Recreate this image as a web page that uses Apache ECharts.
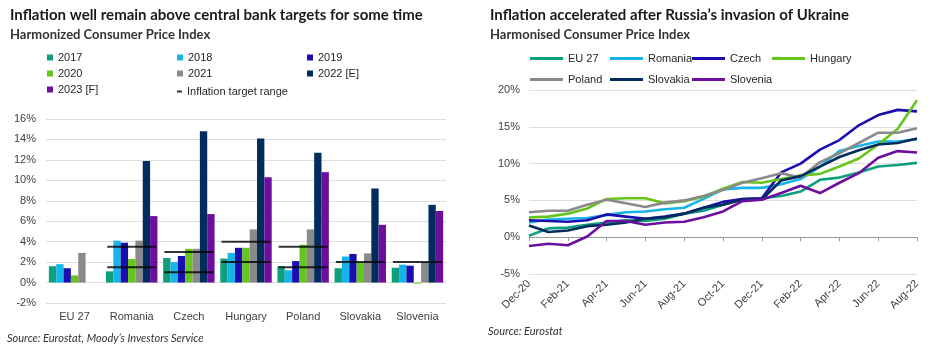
<!DOCTYPE html>
<html>
<head>
<meta charset="utf-8">
<script src="https://cdn.jsdelivr.net/npm/echarts@6/dist/echarts.min.js"></script>
<style>html,body{margin:0;padding:0;background:#fff}#c{width:934px;height:359px}</style>
</head>
<body>
<div id="c"></div>
<script>
// ---------- Left chart data ----------
const countries = ['EU 27', 'Romania', 'Czech', 'Hungary', 'Poland', 'Slovakia', 'Slovenia'];
const years = ['2017', '2018', '2019', '2020', '2021', '2022 [E]', '2023 [F]'];
const v2017 = [1.6, 1.1, 2.4, 2.35, 1.6, 1.4, 1.45];
const v2018 = [1.8, 4.1, 2.0, 2.9, 1.2, 2.55, 1.75];
const v2019 = [1.4, 3.9, 2.6, 3.4, 2.1, 2.8, 1.65];
const v2020 = [0.7, 2.3, 3.3, 3.4, 3.7, 2.0, -0.1];
const v2021 = [2.9, 4.1, 3.3, 5.2, 5.2, 2.85, 2.0];
const v2022 = [null, 11.9, 14.8, 14.1, 12.7, 9.2, 7.6];
const v2023 = [null, 6.5, 6.7, 10.3, 10.8, 5.65, 7.0];
const targetLow  = [null, 1.5, 1.0, 2.0, 1.5, 2.0, 2.0];
const targetHigh = [null, 3.5, 3.0, 4.0, 3.5, null, null];
const leftTicks = [-2, 0, 2, 4, 6, 8, 10, 12, 14, 16];

// ---------- Right chart data ----------
const months = ['Dec-20','Jan-21','Feb-21','Mar-21','Apr-21','May-21','Jun-21','Jul-21','Aug-21','Sep-21','Oct-21',
  'Nov-21','Dec-21','Jan-22','Feb-22','Mar-22','Apr-22','May-22','Jun-22','Jul-22','Aug-22'];
const eu27     = [0.2, 1.2, 1.3, 1.7, 2.0, 2.3, 2.2, 2.5, 3.2, 3.6, 4.4, 5.2, 5.3, 5.6, 6.2, 7.8, 8.1, 8.8, 9.6, 9.8, 10.1];
const romania  = [2.0, 2.4, 2.5, 2.6, 3.0, 3.4, 3.5, 3.8, 4.0, 5.2, 6.5, 6.7, 6.7, 7.2, 7.9, 9.6, 11.7, 12.4, 13.0, 13.0, 13.3];
const czech    = [2.3, 2.2, 2.1, 2.3, 3.1, 2.8, 2.5, 2.8, 3.2, 4.0, 4.8, 5.2, 5.3, 8.8, 10.0, 11.9, 13.2, 15.2, 16.6, 17.3, 17.1];
const hungary  = [2.7, 2.8, 3.2, 3.9, 5.2, 5.3, 5.3, 4.6, 4.9, 5.5, 6.6, 7.5, 7.4, 7.9, 8.4, 8.6, 9.6, 10.7, 12.6, 14.7, 18.6];
const poland   = [3.4, 3.6, 3.6, 4.4, 5.1, 4.6, 4.1, 4.7, 5.0, 5.6, 6.4, 7.4, 8.0, 8.7, 8.1, 10.2, 11.4, 12.8, 14.2, 14.2, 14.8];
const slovakia = [1.6, 0.7, 0.9, 1.5, 1.7, 2.0, 2.5, 2.7, 3.2, 4.0, 4.4, 5.1, 5.1, 7.7, 8.3, 9.6, 10.9, 11.8, 12.6, 12.8, 13.4];
const slovenia = [-1.2, -0.9, -1.1, 0.1, 2.2, 2.2, 1.7, 2.0, 2.1, 2.7, 3.5, 4.9, 5.1, 6.0, 7.0, 6.0, 7.4, 8.7, 10.8, 11.7, 11.5];
const rightTicks = [-5, 0, 5, 10, 15, 20];

const colors = ['#0e9f7e', '#17b4ea', '#1a0fae', '#66c51b', '#8a8a8a', '#002c5e', '#6c0f9f'];
const lineNames = ['EU 27', 'Romania', 'Czech', 'Hungary', 'Poland', 'Slovakia', 'Slovenia'];
const lineData = [eu27, romania, czech, hungary, poland, slovakia, slovenia];
const barData = [v2017, v2018, v2019, v2020, v2021, v2022, v2023];

const chart = echarts.init(document.getElementById('c'), null, {renderer: 'canvas'});

const axisFont = {fontFamily: 'Liberation Sans, Arial, sans-serif', fontSize: 11, color: '#404040'};
const titleFont = 'Lato, "Open Sans", sans-serif';

const targetPoints = [];
countries.forEach((c, i) => {
  if (targetLow[i] != null) targetPoints.push([c, targetLow[i]]);
  if (targetHigh[i] != null) targetPoints.push([c, targetHigh[i]]);
});

const series = [];
years.forEach((y, k) => {
  series.push({
    name: y, type: 'bar', xAxisIndex: 0, yAxisIndex: 0,
    data: barData[k], barGap: '0%', barCategoryGap: '10%',
    itemStyle: {color: colors[k]}, animation: false
  });
});
series.push({
  name: 'Inflation target range', type: 'scatter', xAxisIndex: 0, yAxisIndex: 0,
  data: targetPoints, symbol: 'rect', symbolSize: [49, 2],
  itemStyle: {color: '#000'}, z: 5, animation: false
});
lineNames.forEach((n, k) => {
  series.push({
    name: n, type: 'line', xAxisIndex: 1, yAxisIndex: 1,
    data: lineData[k], showSymbol: false, symbol: 'none',
    lineStyle: {color: colors[k], width: 2.6}, itemStyle: {color: colors[k]},
    animation: false
  });
});

const legText = {fontFamily: 'Liberation Sans, Arial, sans-serif', fontSize: 11, color: '#262626'};
function leftLegend(x, data) {
  return {orient: 'vertical', left: x, top: 52, itemWidth: 6, itemHeight: 6, itemGap: 5,
    icon: 'rect', textStyle: legText, data: data, selectedMode: false, padding: 0};
}
function rightLegend(x, data) {
  return {orient: 'vertical', left: x, top: 53, itemWidth: 33, itemHeight: 3, itemGap: 10,
    icon: 'rect', textStyle: legText, data: data, selectedMode: false, padding: 0};
}

chart.setOption({
  backgroundColor: '#fff',
  title: [
    {text: 'Inflation well remain above central bank targets for some time', left: 5, top: 3,
      textStyle: {fontFamily: titleFont, fontSize: 15, fontWeight: 'bold', color: '#1a1a1a'},
      subtext: 'Harmonized Consumer Price Index', itemGap: 5,
      subtextStyle: {fontFamily: titleFont, fontSize: 13, fontWeight: 'bold', color: '#333'}},
    {text: 'Inflation accelerated after Russia\u2019s invasion of Ukraine', left: 485, top: 3,
      textStyle: {fontFamily: titleFont, fontSize: 15, fontWeight: 'bold', color: '#1a1a1a'},
      subtext: 'Harmonised Consumer Price Index', itemGap: 5,
      subtextStyle: {fontFamily: titleFont, fontSize: 13, fontWeight: 'bold', color: '#333'}}
  ],
  legend: [
    leftLegend(47, ['2017', '2020', '2023 [F]']),
    leftLegend(177, ['2018', '2021']),
    Object.assign(leftLegend(177, ['Inflation target range']), {top: 86, itemWidth: 5, itemHeight: 2}),
    leftLegend(307, ['2019', '2022 [E]']),
    rightLegend(530, ['EU 27', 'Poland']),
    rightLegend(610, ['Romania', 'Slovakia']),
    rightLegend(692, ['Czech', 'Slovenia']),
    rightLegend(772, ['Hungary'])
  ],
  grid: [
    {left: 46, right: 488, top: 119, bottom: 56},
    {left: 529, right: 17, top: 90, bottom: 85}
  ],
  xAxis: [
    {gridIndex: 0, type: 'category', data: countries, position: 'bottom',
      axisLine: {show: false, onZero: false}, axisTick: {show: false},
      axisLabel: Object.assign({interval: 0, margin: 8}, axisFont)},
    {gridIndex: 1, type: 'category', data: months, boundaryGap: false,
      axisLine: {show: true, onZero: true, lineStyle: {color: '#9a9a9a', width: 1}},
      axisTick: {show: true, interval: 1, length: 4, lineStyle: {color: '#9a9a9a'}},
      axisLabel: {show: false}},
    {gridIndex: 1, type: 'category', data: months, boundaryGap: false, position: 'bottom',
      axisLine: {show: false, onZero: false}, axisTick: {show: false},
      axisLabel: Object.assign({interval: 1, rotate: 45, margin: 8}, axisFont)}
  ],
  yAxis: [
    {gridIndex: 0, type: 'value', min: leftTicks[0], max: leftTicks[leftTicks.length - 1], interval: 2,
      axisLine: {show: false}, axisTick: {show: false},
      splitLine: {lineStyle: {color: '#dedede', width: 1}},
      axisLabel: Object.assign({formatter: '{value}%', margin: 10}, axisFont)},
    {gridIndex: 1, type: 'value', min: rightTicks[0], max: rightTicks[rightTicks.length - 1], interval: 5,
      axisLine: {show: false}, axisTick: {show: false},
      splitLine: {lineStyle: {color: '#dedede', width: 1}},
      axisLabel: Object.assign({formatter: '{value}%', margin: 9}, axisFont)}
  ],
  graphic: [
    {type: 'text', left: 7, top: 333, style: {text: 'Source: Eurostat, Moody\u2019s Investors Service',
      font: 'italic 11px Lato, "Open Sans", sans-serif', fill: '#333'}},
    {type: 'text', left: 488, top: 326, style: {text: 'Source: Eurostat',
      font: 'italic 11px Lato, "Open Sans", sans-serif', fill: '#333'}}
  ],
  series: series
});
</script>
</body>
</html>
